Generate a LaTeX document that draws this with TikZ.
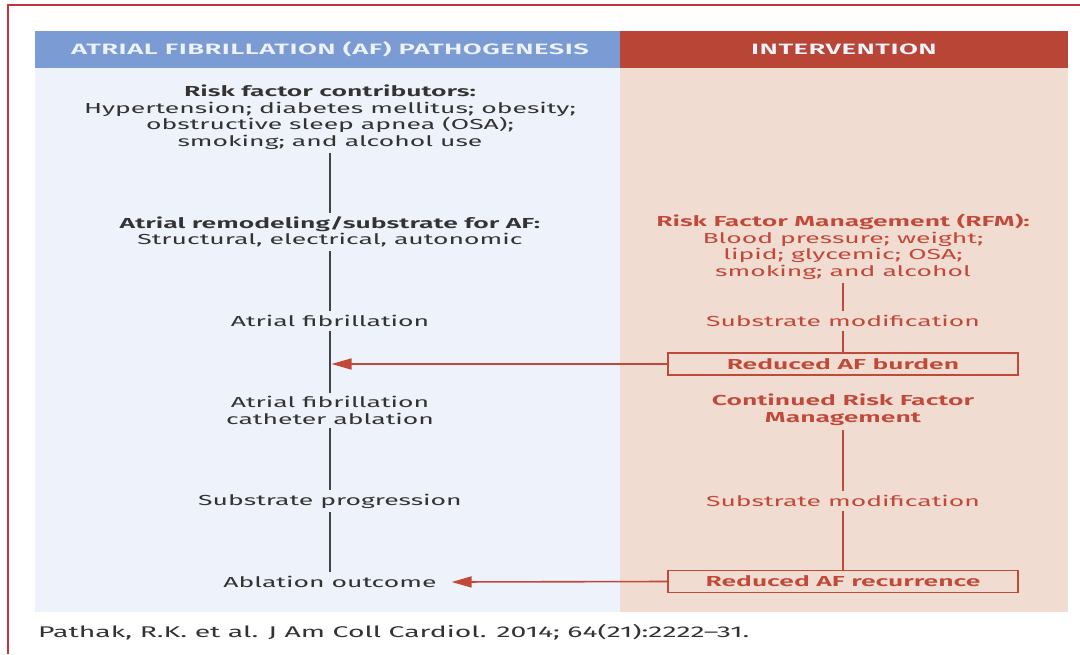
\documentclass[tikz,border=0pt]{standalone}
\usepackage{fontspec}
\setmainfont[FakeStretch=1.83, BoldFont={Fira Sans SemiBold}]{Fira Sans}
\usetikzlibrary{arrows.meta}

\definecolor{blueHead}{HTML}{7A9BD4}
\definecolor{blueBg}{HTML}{EEF2FA}
\definecolor{redHead}{HTML}{B84536}
\definecolor{redBg}{HTML}{F1DCD1}
\definecolor{redTxt}{HTML}{C0493A}
\definecolor{darkTxt}{HTML}{333333}
\definecolor{lineGray}{HTML}{444444}
\definecolor{frameRed}{HTML}{C4343F}
\definecolor{headTxt}{HTML}{EEF2FA}

\begin{document}
\begin{tikzpicture}[x=1pt,y=-1pt,
  body/.style={font=\fontsize{14.5}{16.5}\selectfont, align=center, inner sep=0pt, outer sep=0pt},
  lefttxt/.style={body, text=darkTxt},
  righttxt/.style={body, text=redTxt},
  headtxt/.style={font=\fontsize{15}{18}\selectfont\bfseries\addfontfeature{LetterSpace=3}, text=headTxt, inner sep=0pt},
  outcome/.style={draw=redTxt, line width=1.6pt, minimum width=350pt, minimum height=22pt,
    inner sep=0pt, text=redTxt, font=\fontsize{14.5}{16.5}\selectfont\bfseries},
  grayline/.style={draw=lineGray, line width=2.4pt, shorten >=4pt, shorten <=4pt},
  redline/.style={draw=redTxt, line width=2pt, shorten <=4pt},
  feedback/.style={draw=redTxt, line width=1.6pt, -{Triangle[length=20pt,width=11pt]}}
]
\useasboundingbox (0,0) rectangle (1080,654);
\fill[white] (0,0) rectangle (1080,654);

% outer frame (top and left edges)
\draw[frameRed, line width=2pt] (8,654) -- (8,5) -- (1080,5);

% column backgrounds and headers
\fill[blueBg] (35,68) rectangle (620,612);
\fill[redBg] (620,68) rectangle (1068,612);
\fill[blueHead] (35,31) rectangle (620,68);
\fill[redHead] (620,31) rectangle (1068,68);
\node[headtxt] (hl) at (330,49.5) {ATRIAL FIBRILLATION (AF) PATHOGENESIS};
\node[headtxt] (hr) at (844,49.5) {INTERVENTION};

% pathogenesis column
\node[lefttxt] (rf) at (330,117) {\textbf{Risk factor contributors:}\\Hypertension; diabetes mellitus; obesity;\\obstructive sleep apnea (OSA);\\smoking; and alcohol use};
\node[lefttxt] (rem) at (330,232) {\textbf{Atrial remodeling/substrate for AF:}\\Structural, electrical, autonomic};
\node[lefttxt] (af) at (330,321) {Atrial fibrillation};
\node[lefttxt] (cab) at (330,410.5) {Atrial fibrillation\\catheter ablation};
\node[lefttxt] (sp) at (330,501) {Substrate progression};
\node[lefttxt] (ao) at (330,582) {Ablation outcome};

\draw[grayline] (rf) -- (rem);
\draw[grayline] (rem) -- (af);
\draw[grayline] (af) -- (cab);
\draw[grayline] (cab) -- (sp);
\draw[grayline] (sp) -- (ao);

% intervention column
\node[righttxt] (rfm) at (843,247) {\textbf{Risk Factor Management (RFM):}\\Blood pressure; weight;\\lipid; glycemic; OSA;\\smoking; and alcohol};
\node[righttxt] (sm1) at (843,321) {Substrate modification};
\node[outcome] (b1) at (843,364) {Reduced AF burden};
\node[righttxt, font=\fontsize{14.5}{16.5}\selectfont\bfseries] (crfm) at (843,410) {Continued Risk Factor\\Management};
\node[righttxt] (sm2) at (843,501) {Substrate modification};
\node[outcome] (b2) at (843,581.5) {Reduced AF recurrence};

\draw[redline, shorten >=4pt] (rfm) -- (sm1);
\draw[redline] (sm1) -- (b1);
\draw[redline, shorten >=4pt] (crfm) -- (sm2);
\draw[redline] (sm2) -- (b2);

% feedback arrows
\draw[feedback] (b1.west) -- ([xshift=1.5pt]b1.west -| af.south);
\draw[feedback] (b2.west) -- ([xshift=15pt]ao.east);

% citation
\node[font=\fontsize{15.5}{17}\selectfont, text=darkTxt, anchor=west, inner sep=0pt] (cite) at (38,632) {Pathak, R.K. et al. J Am Coll Cardiol. 2014; 64(21):2222–31.};
\end{tikzpicture}
\end{document}
